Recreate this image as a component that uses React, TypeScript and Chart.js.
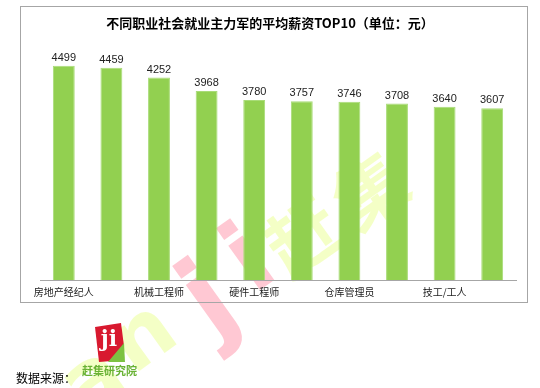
import React, { useEffect, useRef } from 'react';
import { Chart, registerables } from 'chart.js';

Chart.register(...registerables);

// ---- data ----
const categories = ['房地产经纪人', '', '机械工程师', '', '硬件工程师', '', '仓库管理员', '', '技工/工人', ''];
const salaries = [4499, 4459, 4252, 3968, 3780, 3757, 3746, 3708, 3640, 3607];
const titleText = '不同职业社会就业主力军的平均薪资TOP10（单位：元）';
const sourceLabel = '数据来源：';
const sourceName = '赶集研究院';
const watermarkYellowA = ['a', 'n'];
const watermarkPink = ['j', 'i'];
const watermarkYellowB = ['赶', '集'];

const CJK = '"Noto Sans CJK SC", "Noto Sans", sans-serif';

function drawWatermark(ctx: CanvasRenderingContext2D) {
  const yellow = 'rgba(228,255,120,0.42)';
  const pink = 'rgba(255,110,140,0.38)';
  const glyphs: { ch: string; x: number; y: number; c: string; f: string }[] = [
    { ch: watermarkYellowA[0], x: 95, y: 384, c: yellow, f: 'bold 84px "DejaVu Sans"' },
    { ch: watermarkYellowA[1], x: 145, y: 340, c: yellow, f: 'bold 84px "DejaVu Sans"' },
    { ch: watermarkPink[0], x: 212, y: 305, c: pink, f: 'bold 110px "DejaVu Sans"' },
    { ch: watermarkPink[1], x: 252, y: 264, c: pink, f: 'bold 100px "DejaVu Sans"' },
    { ch: watermarkYellowB[0], x: 303, y: 236, c: yellow, f: 'bold 72px ' + CJK },
    { ch: watermarkYellowB[1], x: 370, y: 190, c: yellow, f: 'bold 72px ' + CJK },
  ];
  ctx.save();
  ctx.textAlign = 'center';
  ctx.textBaseline = 'middle';
  for (const g of glyphs) {
    ctx.save();
    ctx.translate(g.x, g.y);
    ctx.rotate(-0.62);
    ctx.font = g.f;
    ctx.fillStyle = g.c;
    ctx.fillText(g.ch, 0, 0);
    ctx.restore();
  }
  ctx.restore();
}

function drawLogo(ctx: CanvasRenderingContext2D) {
  ctx.save();
  // red page
  ctx.beginPath();
  ctx.moveTo(95, 327);
  ctx.lineTo(121, 323);
  ctx.lineTo(124, 346);
  ctx.lineTo(112, 361);
  ctx.lineTo(99, 362);
  ctx.closePath();
  ctx.fillStyle = '#d8192f';
  ctx.fill();
  // page curl
  ctx.beginPath();
  ctx.moveTo(124, 343);
  ctx.lineTo(108, 362);
  ctx.lineTo(125, 362);
  ctx.closePath();
  ctx.fillStyle = '#7cc242';
  ctx.fill();
  // white letters
  ctx.fillStyle = '#ffffff';
  ctx.font = 'bold 22px "DejaVu Serif"';
  ctx.textAlign = 'center';
  ctx.textBaseline = 'middle';
  ctx.fillText('ji', 109, 340);
  // name
  ctx.fillStyle = '#69b234';
  ctx.font = 'bold 11px ' + CJK;
  ctx.textAlign = 'left';
  ctx.fillText(sourceName, 82, 371);
  ctx.restore();
}

const decorPlugin = {
  id: 'decor',
  beforeDraw(chart: any) {
    const ctx = chart.ctx as CanvasRenderingContext2D;
    ctx.save();
    ctx.fillStyle = '#ffffff';
    ctx.fillRect(0, 0, chart.width, chart.height);
    ctx.restore();
    drawWatermark(ctx);
    ctx.save();
    ctx.strokeStyle = '#a6a6a6';
    ctx.lineWidth = 1;
    ctx.strokeRect(20.5, 6.5, 507, 296);
    ctx.restore();
  },
  afterDatasetsDraw(chart: any) {
    const ctx = chart.ctx as CanvasRenderingContext2D;
    const meta = chart.getDatasetMeta(0);
    ctx.save();
    ctx.font = '11px "Liberation Sans", Arial, sans-serif';
    ctx.fillStyle = '#222222';
    ctx.textAlign = 'center';
    ctx.textBaseline = 'middle';
    meta.data.forEach((bar: any, i: number) => {
      ctx.fillText(String(salaries[i]), bar.x, bar.y - 8);
    });
    // category labels
    const xScale = chart.scales.x;
    ctx.font = '10px "Noto Sans CJK SC", sans-serif';
    ctx.fillStyle = '#222222';
    categories.forEach((c, i) => {
      if (c) ctx.fillText(c, xScale.getPixelForValue(i), chart.chartArea.bottom + 12);
    });
    ctx.restore();
  },
  afterDraw(chart: any) {
    const ctx = chart.ctx as CanvasRenderingContext2D;
    ctx.save();
    ctx.fillStyle = '#000000';
    ctx.font = 'bold 13px ' + CJK;
    ctx.textAlign = 'center';
    ctx.textBaseline = 'middle';
    ctx.fillText(titleText, 270, 23);
    ctx.font = '12px ' + CJK;
    ctx.textAlign = 'left';
    ctx.fillText(sourceLabel, 16, 378);
    ctx.restore();
    drawLogo(ctx);
  },
};

export default function App() {
  const ref = useRef<HTMLCanvasElement | null>(null);
  useEffect(() => {
    document.body.style.margin = '0';
    if (!ref.current) return;
    const chart = new Chart(ref.current, {
      type: 'bar',
      data: {
        labels: categories,
        datasets: [
          {
            data: salaries,
            backgroundColor: '#92D050',
            borderColor: '#a9dc78',
            borderWidth: 1,
            barPercentage: 0.46,
            categoryPercentage: 1,
          },
        ],
      },
      options: {
        animation: false,
        responsive: false,
        devicePixelRatio: 1,
        layout: { padding: { left: 40, right: 24, top: 42, bottom: 0 } },
        plugins: {
          legend: { display: false },
          title: { display: false },
          tooltip: { enabled: false },
        },
        scales: {
          x: {
            grid: { display: false, drawTicks: false },
            border: { display: true, color: '#a6a6a6', width: 1 },
            ticks: { display: false },
            afterFit(scale: any) {
              scale.height = 108;
            },
          },
          y: {
            display: false,
            min: 0,
            max: 5000,
          },
        },
      },
      plugins: [decorPlugin],
    });
    return () => chart.destroy();
  }, []);
  return (
    <div style={{ position: 'absolute', left: 0, top: 0, width: 540, height: 388 }}>
      <canvas ref={ref} width={540} height={388} style={{ display: 'block', width: 540, height: 388 }} />
    </div>
  );
}
